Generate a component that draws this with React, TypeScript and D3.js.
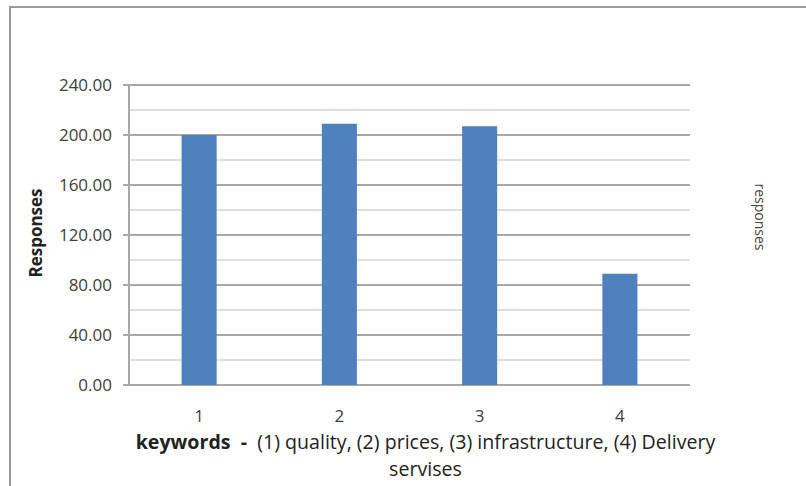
import * as d3 from "d3";

const categories = ["1", "2", "3", "4"];
const responses = [200, 209, 207, 89];
const yTicks = [0, 40, 80, 120, 160, 200, 240];
const minorTicks = [20, 60, 100, 140, 180, 220];

export default function App() {
  const width = 806;
  const height = 486;
  const margin = { top: 85, right: 116, bottom: 101, left: 129 };
  const innerWidth = width - margin.left - margin.right;
  const innerHeight = height - margin.top - margin.bottom;

  const x = d3.scaleBand().domain(categories).range([0, innerWidth]).paddingInner(0.75).paddingOuter(0.375);
  const y = d3.scaleLinear().domain([0, 240]).range([innerHeight, 0]);
  const font = "'Open Sans', sans-serif";

  return (
    <svg
      width={width}
      height={height}
      style={{ position: "absolute", left: 0, top: 0, background: "#fff" }}
      fontFamily={font}
    >
      {/* outer frame, cut off at the right and bottom */}
      <line x1={10} x2={10} y1={6} y2={height} stroke="#9a9a9a" strokeWidth={2} />
      <line x1={9} x2={width} y1={7} y2={7} stroke="#9a9a9a" strokeWidth={2} />

      <g transform={`translate(${margin.left}, ${margin.top})`}>
        {minorTicks.map((t) => (
          <line key={`m-${t}`} x1={0} x2={innerWidth} y1={y(t)} y2={y(t)} stroke="#d4d4d4" strokeWidth={1.5} />
        ))}
        {yTicks.map((t) => (
          <g key={`y-${t}`}>
            <line x1={-6} x2={innerWidth} y1={y(t)} y2={y(t)} stroke="#a8a8a8" strokeWidth={2} />
            <text x={-17} y={y(t)} dy="0.35em" textAnchor="end" fontSize={17} fill="#404040">
              {d3.format(".2f")(t)}
            </text>
          </g>
        ))}
        <line x1={0} x2={0} y1={0} y2={innerHeight} stroke="#a8a8a8" strokeWidth={2} />

        {categories.map((c, i) => (
          <rect
            key={c}
            x={x(c)}
            y={y(responses[i])}
            width={x.bandwidth()}
            height={innerHeight - y(responses[i])}
            fill="#4f81bd"
          />
        ))}

        {categories.map((c) => (
          <text
            key={`c-${c}`}
            x={(x(c) ?? 0) + x.bandwidth() / 2}
            y={innerHeight + 31}
            dy="0.35em"
            textAnchor="middle"
            fontSize={17}
            fill="#404040"
          >
            {c}
          </text>
        ))}

        <text x={innerWidth / 2 + 16} y={innerHeight + 57} dy="0.35em" textAnchor="middle" fontSize={19.6} fill="#222">
          <tspan fontWeight="bold">keywords</tspan>
          <tspan fontWeight="bold">{"\u00a0\u00a0-\u00a0\u00a0"}</tspan>
          <tspan>(1) quality, (2) prices, (3) infrastructure, (4) Delivery</tspan>
        </text>
        <text x={innerWidth / 2 + 16} y={innerHeight + 84} dy="0.35em" textAnchor="middle" fontSize={19.6} fill="#222">
          servises
        </text>

        <text
          transform={`translate(-93, ${innerHeight / 2 - 2}) rotate(-90)`}
          textAnchor="middle"
          dy="0.35em"
          fontSize={17}
          fontWeight="bold"
          fill="#222"
        >
          Responses
        </text>
      </g>

      <text
        transform={`translate(760, 217) rotate(90)`}
        textAnchor="middle"
        dy="0.35em"
        fontSize={14}
        fill="#444"
      >
        responses
      </text>
    </svg>
  );
}
